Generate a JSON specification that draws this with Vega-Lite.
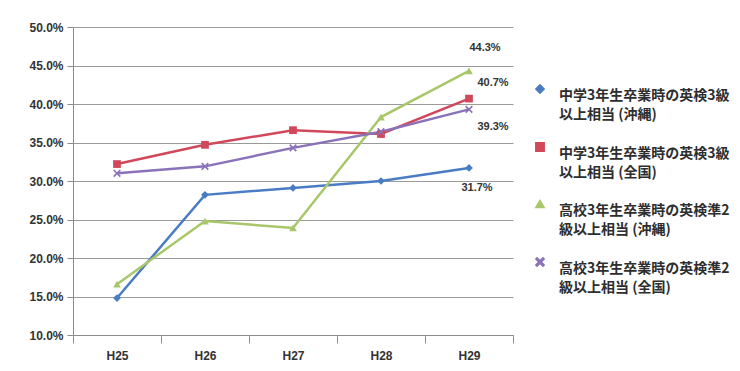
{
  "$schema": "https://vega.github.io/schema/vega-lite/v6.json",
  "width": 440,
  "height": 308,
  "autosize": "none",
  "padding": {"left": 73, "top": 27, "right": 227, "bottom": 36},
  "background": "white",
  "config": {
    "font": "Liberation Sans",
    "view": {"stroke": null}
  },
  "data": {
    "values": [
      {"year": "H25", "series": "中学3年生卒業時の英検3級以上相当 (沖縄)", "value": 0.148},
      {"year": "H26", "series": "中学3年生卒業時の英検3級以上相当 (沖縄)", "value": 0.282},
      {"year": "H27", "series": "中学3年生卒業時の英検3級以上相当 (沖縄)", "value": 0.291},
      {"year": "H28", "series": "中学3年生卒業時の英検3級以上相当 (沖縄)", "value": 0.300},
      {"year": "H29", "series": "中学3年生卒業時の英検3級以上相当 (沖縄)", "value": 0.317},
      {"year": "H25", "series": "中学3年生卒業時の英検3級以上相当 (全国)", "value": 0.322},
      {"year": "H26", "series": "中学3年生卒業時の英検3級以上相当 (全国)", "value": 0.347},
      {"year": "H27", "series": "中学3年生卒業時の英検3級以上相当 (全国)", "value": 0.366},
      {"year": "H28", "series": "中学3年生卒業時の英検3級以上相当 (全国)", "value": 0.361},
      {"year": "H29", "series": "中学3年生卒業時の英検3級以上相当 (全国)", "value": 0.407},
      {"year": "H25", "series": "高校3年生卒業時の英検準2級以上相当 (沖縄)", "value": 0.166},
      {"year": "H26", "series": "高校3年生卒業時の英検準2級以上相当 (沖縄)", "value": 0.248},
      {"year": "H27", "series": "高校3年生卒業時の英検準2級以上相当 (沖縄)", "value": 0.239},
      {"year": "H28", "series": "高校3年生卒業時の英検準2級以上相当 (沖縄)", "value": 0.383},
      {"year": "H29", "series": "高校3年生卒業時の英検準2級以上相当 (沖縄)", "value": 0.443},
      {"year": "H25", "series": "高校3年生卒業時の英検準2級以上相当 (全国)", "value": 0.310},
      {"year": "H26", "series": "高校3年生卒業時の英検準2級以上相当 (全国)", "value": 0.319},
      {"year": "H27", "series": "高校3年生卒業時の英検準2級以上相当 (全国)", "value": 0.343},
      {"year": "H28", "series": "高校3年生卒業時の英検準2級以上相当 (全国)", "value": 0.364},
      {"year": "H29", "series": "高校3年生卒業時の英検準2級以上相当 (全国)", "value": 0.393}
    ]
  },
  "encoding": {
    "x": {
      "field": "year", "type": "ordinal",
      "axis": {
        "title": null, "labelAngle": 0, "labelFont": "Liberation Sans", "labelFontWeight": "bold",
        "labelFontSize": 12, "labelColor": "#333333", "domainColor": "#8c8c8c", "tickColor": "#8c8c8c",
        "tickSize": 8, "labelPadding": 7, "tickBand": "extent", "grid": false
      }
    },
    "y": {
      "field": "value", "type": "quantitative",
      "scale": {"domain": [0.1, 0.5], "nice": false},
      "axis": {
        "title": null, "format": ".1%", "values": [0.1, 0.15, 0.2, 0.25, 0.3, 0.35, 0.4, 0.45, 0.5],
        "labelFont": "Liberation Sans", "labelFontWeight": "bold", "labelFontSize": 12, "labelColor": "#333333",
        "domainColor": "#8c8c8c", "tickColor": "#8c8c8c", "tickSize": 6, "labelPadding": 4,
        "gridColor": "#9a9a9a", "gridWidth": 1.2
      }
    },
    "color": {
      "field": "series", "type": "nominal",
      "scale": {
        "domain": ["中学3年生卒業時の英検3級以上相当 (沖縄)", "中学3年生卒業時の英検3級以上相当 (全国)", "高校3年生卒業時の英検準2級以上相当 (沖縄)", "高校3年生卒業時の英検準2級以上相当 (全国)"],
        "range": ["#4a7cc4", "#d0485a", "#a8c76a", "#8a72b8"]
      },
      "legend": {
        "title": null, "orient": "none", "legendX": 460, "legendY": 55,
        "labelExpr": "[substring(datum.label, 0, 13), substring(datum.label, 13)]",
        "labelFont": "Noto Sans CJK JP", "labelFontWeight": "bold", "labelFontSize": 14, "labelColor": "#2e2e2e",
        "labelLimit": 300, "rowPadding": 17, "symbolSize": 70, "labelOffset": 12, "labelBaseline": "top",
        "encode": {"labels": {"update": {"lineHeight": {"value": 19}}}}
      }
    },
    "shape": {
      "field": "series", "type": "nominal",
      "scale": {
        "domain": ["中学3年生卒業時の英検3級以上相当 (沖縄)", "中学3年生卒業時の英検3級以上相当 (全国)", "高校3年生卒業時の英検準2級以上相当 (沖縄)", "高校3年生卒業時の英検準2級以上相当 (全国)"],
        "range": ["diamond", "square", "triangle-up", "M-1,-0.7L-0.7,-1L0,-0.3L0.7,-1L1,-0.7L0.3,0L1,0.7L0.7,1L0,0.3L-0.7,1L-1,0.7L-0.3,0Z"]
      },
      "legend": {
        "title": null, "orient": "none", "legendX": 460, "legendY": 55,
        "labelExpr": "[substring(datum.label, 0, 13), substring(datum.label, 13)]",
        "labelFont": "Noto Sans CJK JP", "labelFontWeight": "bold", "labelFontSize": 14, "labelColor": "#2e2e2e",
        "labelLimit": 300, "rowPadding": 17, "symbolSize": 70, "labelOffset": 12, "labelBaseline": "top",
        "encode": {"labels": {"update": {"lineHeight": {"value": 19}}}}
      }
    }
  },
  "layer": [
    {"mark": {"type": "line", "strokeWidth": 2.5}, "encoding": {"shape": null}},
    {"mark": {"type": "point", "filled": true, "size": 60, "opacity": 1}},
    {
      "transform": [{"filter": "datum.year == 'H29' && datum.series == '高校3年生卒業時の英検準2級以上相当 (沖縄)'"}],
      "mark": {"type": "text", "dx": 16, "dy": -23, "font": "Liberation Sans", "fontWeight": "bold", "fontSize": 11, "color": "#333333"},
      "encoding": {"text": {"field": "value", "format": ".1%"}, "color": null, "shape": null}
    },
    {
      "transform": [{"filter": "datum.year == 'H29' && datum.series == '中学3年生卒業時の英検3級以上相当 (全国)'"}],
      "mark": {"type": "text", "dx": 24, "dy": -16, "font": "Liberation Sans", "fontWeight": "bold", "fontSize": 11, "color": "#333333"},
      "encoding": {"text": {"field": "value", "format": ".1%"}, "color": null, "shape": null}
    },
    {
      "transform": [{"filter": "datum.year == 'H29' && datum.series == '高校3年生卒業時の英検準2級以上相当 (全国)'"}],
      "mark": {"type": "text", "dx": 24, "dy": 18, "font": "Liberation Sans", "fontWeight": "bold", "fontSize": 11, "color": "#333333"},
      "encoding": {"text": {"field": "value", "format": ".1%"}, "color": null, "shape": null}
    },
    {
      "transform": [{"filter": "datum.year == 'H29' && datum.series == '中学3年生卒業時の英検3級以上相当 (沖縄)'"}],
      "mark": {"type": "text", "dx": 8, "dy": 20, "font": "Liberation Sans", "fontWeight": "bold", "fontSize": 11, "color": "#333333"},
      "encoding": {"text": {"field": "value", "format": ".1%"}, "color": null, "shape": null}
    }
  ]
}
